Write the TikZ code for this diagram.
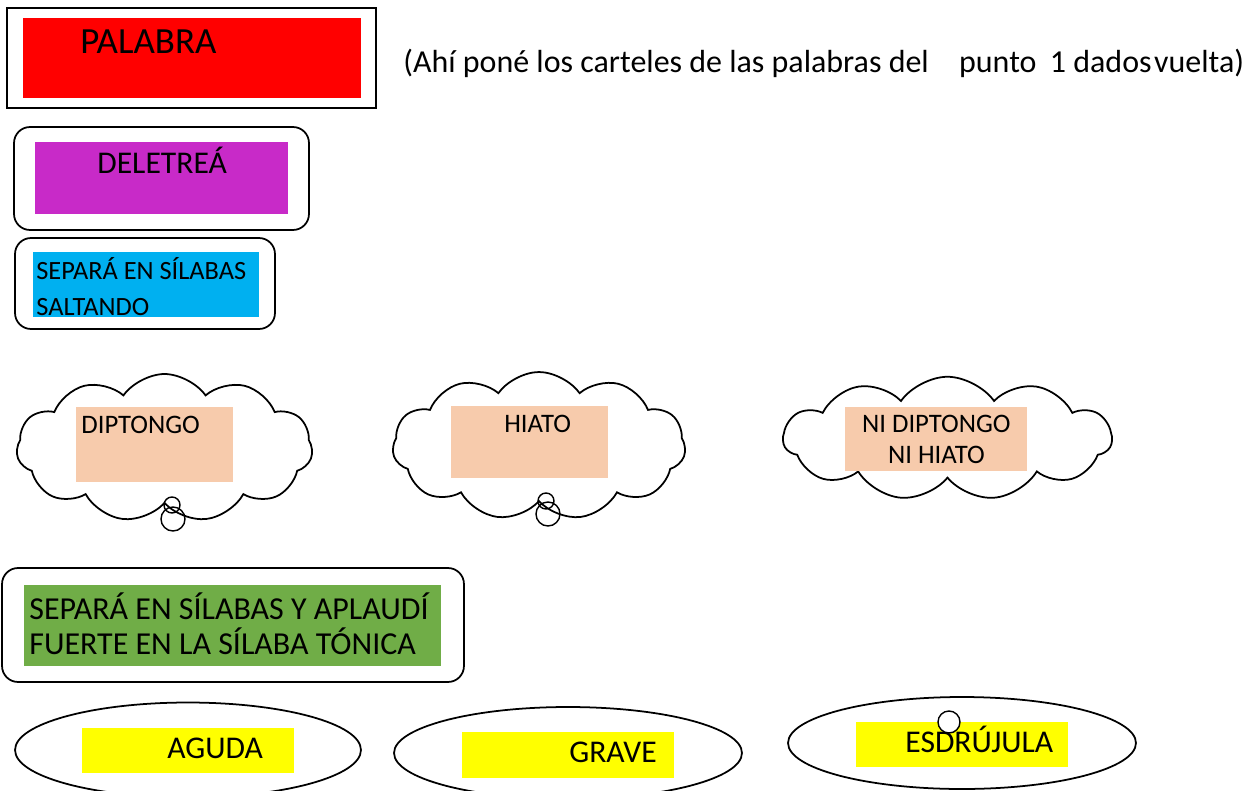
\documentclass[tikz,border=0pt]{standalone}
\usepackage{fontspec}
\setmainfont{Carlito}
\usetikzlibrary{positioning,shapes.symbols,shapes.geometric}
\definecolor{palabrared}{RGB}{255,0,0}
\definecolor{deletreamag}{RGB}{200,42,200}
\definecolor{saltcyan}{RGB}{0,176,240}
\definecolor{cloudpink}{RGB}{247,203,172}
\definecolor{tonicgreen}{RGB}{112,173,71}
\definecolor{accyellow}{RGB}{255,255,0}

\begin{document}
\begin{tikzpicture}[x=0.02cm, y=-0.02cm]
\useasboundingbox (0,0) rectangle (1251,791);
% Define styles
\tikzstyle{frame} = [rectangle, draw=black, line width=1.3pt, inner sep=0]
\tikzstyle{roundframe} = [rectangle, rounded corners=0.32cm, draw=black, line width=1pt, inner sep=0]
\tikzstyle{card} = [rectangle, inner sep=0, anchor=north west]
\tikzstyle{label} = [inner sep=0, anchor=base west]
\tikzstyle{thought} = [cloud, cloud puffs=11, cloud puff arc=110, draw=black, line width=1pt, inner sep=0]
\tikzstyle{accent} = [ellipse, draw=black, line width=1pt, inner sep=0]
\tikzstyle{bubble} = [circle, draw=black, line width=0.8pt, inner sep=0]

% First row (word card and note)
\node[frame, minimum width=7.38cm, minimum height=2cm] (PalabraFrame) at (191.5,58) {};
\node[card, fill=palabrared, minimum width=6.76cm, minimum height=1.6cm] (Palabra) at (23,18) {};
\node[label, font=\fontsize{21}{24}\selectfont] (PalabraText) at (80,53) {PALABRA};
\node[label, font=\fontsize{18.2}{21}\selectfont] (Nota) at (403,72) {(Ahí poné los carteles de las palabras del\hspace{0.95em}punto\hspace{0.42em}1 dados\hspace{0.08em}vuelta)};

% Spelling and syllable cards
\node[roundframe, minimum width=5.9cm, minimum height=2.06cm] (DeletreaFrame) at (161.5,178.5) {};
\node[card, fill=deletreamag, minimum width=5.06cm, minimum height=1.44cm] (Deletrea) at (35,142) {};
\node[label, font=\fontsize{18}{21}\selectfont] (DeletreaText) at (97,173) {DELETREÁ};

\node[roundframe, minimum width=5.2cm, minimum height=1.82cm] (SaltandoFrame) at (145,283.5) {};
\node[card, fill=saltcyan, minimum width=4.52cm, minimum height=1.3cm] (Saltando) at (33,252) {};
\node[label, font=\fontsize{15}{20.4}\selectfont, align=left, anchor=north west] (SaltandoText) at (36,257) {SEPARÁ EN SÍLABAS\\SALTANDO};

% Thought clouds
\node[thought, minimum width=5.92cm, minimum height=2.96cm] (CloudDiptongo) at (164.5,448) {};
\node[thought, minimum width=5.86cm, minimum height=2.96cm] (CloudHiato) at (539,446) {};
\node[thought, minimum width=6.57cm, minimum height=2.47cm] (CloudNinguno) at (947.5,438.5) {};

\node[card, fill=cloudpink, minimum width=3.14cm, minimum height=1.5cm] (Diptongo) at (76,407) {};
\node[card, fill=cloudpink, minimum width=3.14cm, minimum height=1.44cm] (Hiato) at (451,406) {};
\node[card, fill=cloudpink, minimum width=3.64cm, minimum height=1.28cm] (Ninguno) at (845,407) {};
\node[label, font=\fontsize{15.2}{17}\selectfont] (DiptongoText) at (81,433) {DIPTONGO};
\node[label, font=\fontsize{15.2}{17}\selectfont] (HiatoText) at (504,432) {HIATO};
\node[font=\fontsize{15.2}{17.6}\selectfont, align=center, inner sep=0] (NingunoText) at (Ninguno) {NI DIPTONGO\\NI HIATO};

\node[bubble, minimum size=0.32cm] (DipBubbleA) at (172,505) {};
\node[bubble, minimum size=0.48cm] (DipBubbleB) at (173,519) {};
\node[bubble, minimum size=0.32cm] (HiaBubbleA) at (546,501) {};
\node[bubble, minimum size=0.48cm] (HiaBubbleB) at (548,514) {};

% Stress card
\node[roundframe, minimum width=9.24cm, minimum height=2.28cm] (TonicaFrame) at (233,625) {};
\node[card, fill=tonicgreen, minimum width=8.34cm, minimum height=1.62cm] (Tonica) at (24,585) {};
\node[label, font=\fontsize{18.2}{20.4}\selectfont, align=left, anchor=north west] (TonicaText) at (29,592) {SEPARÁ EN SÍLABAS Y APLAUDÍ\\FUERTE EN LA SÍLABA TÓNICA};

% Word types
\node[accent, minimum width=6.92cm, minimum height=1.9cm] (EllAguda) at (188,750) {};
\node[accent, minimum width=6.96cm, minimum height=1.84cm] (EllGrave) at (568,753) {};
\node[accent, minimum width=6.96cm, minimum height=1.84cm] (EllEsdrujula) at (962,743) {};

\node[card, fill=accyellow, minimum width=4.24cm, minimum height=0.9cm] (Aguda) at (82,728) {};
\node[card, fill=accyellow, minimum width=4.24cm, minimum height=0.92cm] (Grave) at (462,732) {};
\node[card, fill=accyellow, minimum width=4.24cm, minimum height=0.9cm] (Esdrujula) at (856,722) {};
\node[label, font=\fontsize{18}{20}\selectfont] (AgudaText) at (167,758) {AGUDA};
\node[label, font=\fontsize{18}{20}\selectfont] (GraveText) at (569,762) {GRAVE};
\node[label, font=\fontsize{18}{20}\selectfont] (EsdrujulaText) at (905,752) {ESDRÚJULA};
\node[bubble, fill=white, minimum size=0.44cm] (EsdBubble) at (949,722) {};

\end{tikzpicture}
\end{document}
